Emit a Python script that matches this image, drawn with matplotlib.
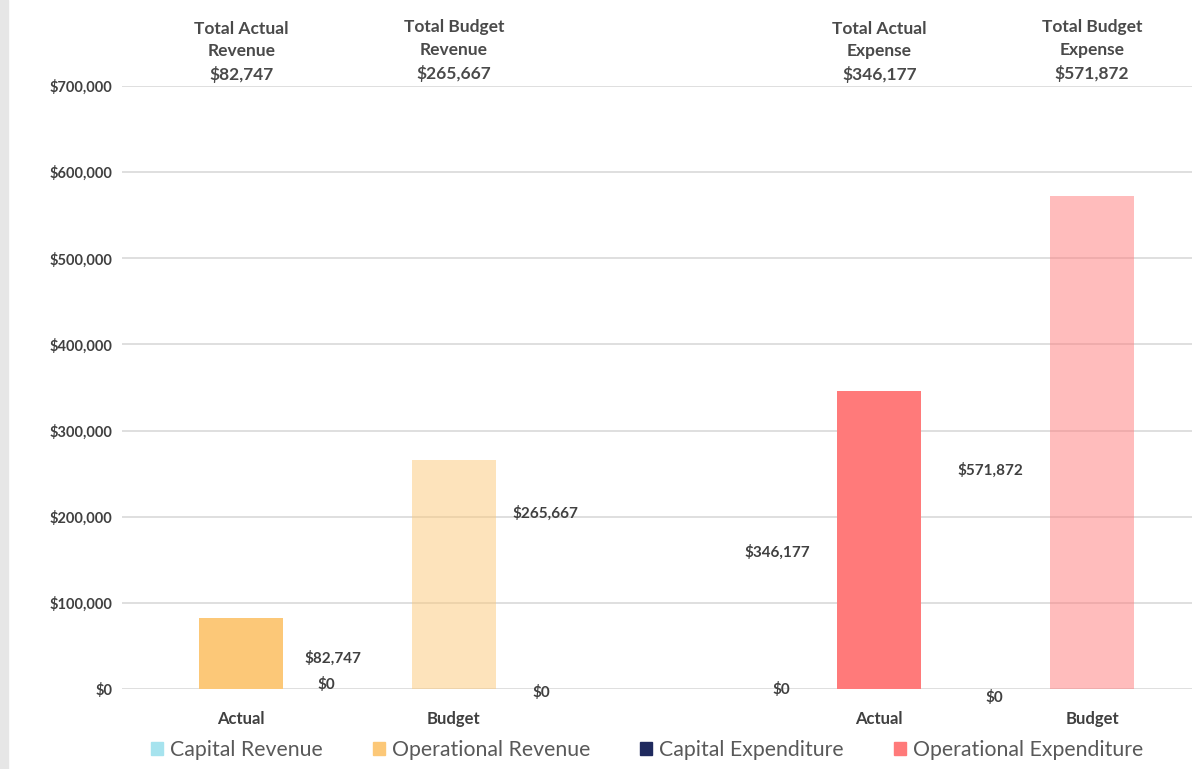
import matplotlib.pyplot as plt
from matplotlib.patches import Rectangle
from matplotlib.ticker import FuncFormatter

plt.rcParams['font.family'] = ['Lato', 'DejaVu Sans']

# data
categories = ['Actual', 'Budget', 'Actual', 'Budget']
groups = ['Revenue', 'Revenue', 'Expense', 'Expense']
capital = [0, 0, 0, 0]
operational = [82747, 265667, 346177, 571872]
totals_title = ['Total Actual\nRevenue', 'Total Budget\nRevenue', 'Total Actual\nExpense', 'Total Budget\nExpense']
legend_names = ['Capital Revenue', 'Operational Revenue', 'Capital Expenditure', 'Operational Expenditure']

# layout of the odd Excel data labels (x offset in bar units, y in dollars)
op_label_pos = [(0.43, 36000), (0.43, 204000), (-0.48, 159000), (-0.48, 254000)]
zero_label_pos = [(0.40, 5000), (0.41, -3500), (-0.46, 0), (-0.46, -10000)]
title_offset = [3000, 5000, 3000, 5000]

x = [0, 1, 3, 4]
cap_colors = {'Revenue': '#A6E3EE', 'Expense': '#1F2A5E'}
op_colors = {'Revenue': '#FCC878', 'Expense': '#FF7A7A'}
alphas = [1.0, 0.5, 1.0, 0.5]

fig = plt.figure(figsize=(11.92, 7.69), dpi=100)
ax = fig.add_axes([122 / 1192, 1 - 689 / 769, 1 - 122 / 1192, (689 - 86) / 769])
fig.patches.append(Rectangle((0, 0), 8 / 1192, 1, transform=fig.transFigure,
                             color='#E6E6E6', zorder=-1))

w = 0.395
for i in range(4):
    g = groups[i]
    ax.bar(x[i], capital[i], w, color=cap_colors[g], alpha=alphas[i], zorder=3)
    ax.bar(x[i], operational[i], w, bottom=capital[i], color=op_colors[g],
           alpha=alphas[i], zorder=3, linewidth=0)
    dx, dy = op_label_pos[i]
    ax.text(x[i] + dx, dy, '${:,.0f}'.format(operational[i]), ha='center', va='center',
            fontsize=11, fontweight='bold', color='#404040')
    dx, dy = zero_label_pos[i]
    ax.text(x[i] + dx, dy, '${:,.0f}'.format(capital[i]), ha='center', va='center',
            fontsize=11, fontweight='bold', color='#404040')
    ax.text(x[i], 700000 + title_offset[i],
            totals_title[i] + '\n${:,.0f}'.format(operational[i] + capital[i]),
            ha='center', va='bottom', fontsize=12.5, color='#4a4a4a', linespacing=1.5,
            fontweight='bold')

ax.set_ylim(0, 700000)
ax.set_xlim(-0.56, 4.47)
ax.set_yticks(range(0, 700001, 100000))
ax.yaxis.set_major_formatter(FuncFormatter(lambda v, p: '${:,.0f}'.format(v)))
ax.set_xticks(x)
ax.set_xticklabels(categories)
ax.tick_params(length=0)
ax.tick_params(axis='y', pad=7, labelsize=10.5, labelcolor='#404040')
ax.tick_params(axis='x', pad=16, labelsize=12, labelcolor='#404040')
for lab in ax.get_yticklabels() + ax.get_xticklabels():
    lab.set_fontweight('bold')
ax.grid(axis='y', color='#D9D9D9', linewidth=1.2, zorder=0)
for s in ax.spines.values():
    s.set_visible(False)

handles = [Rectangle((0, 0), 1, 1, color=c) for c in
           [cap_colors['Revenue'], op_colors['Revenue'], cap_colors['Expense'], op_colors['Expense']]]
fig.legend(handles, legend_names, loc='center', bbox_to_anchor=(0.543, 1 - 750 / 769), ncol=4,
           frameon=False, fontsize=15.3, handlelength=0.55, handleheight=0.55, handletextpad=0.35,
           columnspacing=2.35, labelcolor='#595959')

fig.savefig('out.png', dpi=100, facecolor='white')
